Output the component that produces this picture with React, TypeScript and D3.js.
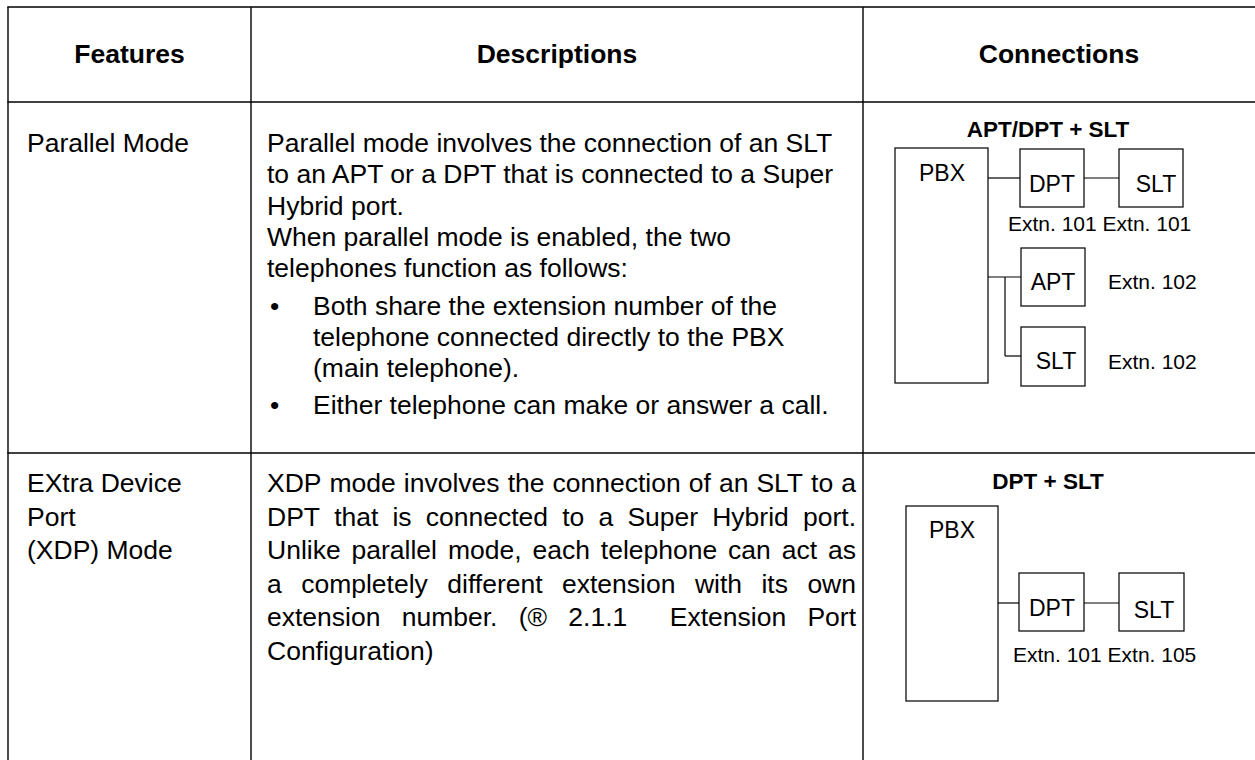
import React, { useEffect, useRef } from "react";
import * as d3 from "d3";

// table content
const headers = ["Features", "Descriptions", "Connections"];
const featureNames = [["Parallel Mode"], ["EXtra Device", "Port", "(XDP) Mode"]];
const parallelIntro = [
  "Parallel mode involves the connection of an SLT",
  "to an APT or a DPT that is connected to a Super",
  "Hybrid port.",
  "When parallel mode is enabled, the two",
  "telephones function as follows:",
];
const parallelBullets = [
  ["Both share the extension number of the", "telephone connected directly to the PBX", "(main telephone)."],
  ["Either telephone can make or answer a call."],
];
const xdpLines = [
  "XDP mode involves the connection of an SLT to a",
  "DPT that is connected to a Super Hybrid port.",
  "Unlike parallel mode, each telephone can act as",
  "a completely different extension with its own",
  "extension number. (\u00AE 2.1.1  Extension Port",
  "Configuration)",
];

// diagram content
const diagramTitles = ["APT/DPT + SLT", "DPT + SLT"];
const parallelNodes = ["PBX", "DPT", "SLT", "APT", "SLT"];
const parallelExtns = ["Extn. 101", "Extn. 101", "Extn. 102", "Extn. 102"];
const xdpNodes = ["PBX", "DPT", "SLT"];
const xdpExtns = ["Extn. 101", "Extn. 105"];

const FONT = "'Liberation Sans', Arial, Helvetica, sans-serif";
const COL = [8, 251, 863, 1255];
const ROW = [7, 102, 453, 760];
const BODY = 26.5;

function App() {
  const ref = useRef<SVGSVGElement>(null);

  useEffect(() => {
    document.body.style.margin = "0";
    const svg = d3.select(ref.current);
    svg.selectAll("*").remove();
    const g = svg.append("g").attr("font-family", FONT).attr("fill", "#000");

    const line = (x1: number, y1: number, x2: number, y2: number, w = 1.4) =>
      g.append("line").attr("x1", x1).attr("y1", y1).attr("x2", x2).attr("y2", y2)
        .attr("stroke", "#000").attr("stroke-width", w);

    const text = (s: string, x: number, y: number, size: number, anchor = "start", weight = "normal") =>
      g.append("text").attr("x", x).attr("y", y).attr("font-size", size)
        .attr("text-anchor", anchor).attr("font-weight", weight).text(s);

    const width = (sel: any) => (sel.node() as SVGTextElement).getComputedTextLength();

    // grid
    [ROW[0], ROW[1], ROW[2]].forEach((y) => line(COL[0] - 0.7, y, COL[3], y));
    [COL[0], COL[1], COL[2]].forEach((x) => line(x, ROW[0], x, ROW[3]));

    // headers
    headers.forEach((h, i) => text(h, (COL[i] + COL[i + 1]) / 2, 63, BODY, "middle", "bold"));

    // features column
    const firstBase = [152, 492];
    const featGap = [31.3, 33.5];
    featureNames.forEach((lines, r) =>
      lines.forEach((s, i) => text(s, 27, firstBase[r] + i * featGap[r], BODY)));

    // parallel description
    const tx = 267;
    const lh = 31.3;
    let y = firstBase[0];
    parallelIntro.forEach((s) => { text(s, tx, y, BODY); y += lh; });
    parallelBullets.forEach((para) => {
      y += 6;
      text("\u2022", 270, y, BODY);
      para.forEach((s) => { text(s, 313, y, BODY); y += lh; });
    });

    // XDP description, justified
    const x0 = 267, x1 = 856;
    xdpLines.forEach((s, i) => {
      const yy = firstBase[1] + i * featGap[1];
      if (i === xdpLines.length - 1) { text(s, x0, yy, BODY); return; }
      const words: string[] = [];
      const gaps: number[] = [];
      let pending = 0;
      s.split(" ").forEach((t) => {
        if (t === "") { pending += 1; return; }
        if (words.length) gaps.push(pending + 1);
        words.push(t);
        pending = 0;
      });
      const nodes = words.map((w) => text(w, x0, yy, BODY));
      const widths = nodes.map(width);
      const unit = (x1 - x0 - d3.sum(widths)) / d3.sum(gaps);
      let cx = x0;
      nodes.forEach((n, k) => {
        n.attr("x", cx);
        cx += widths[k] + (k < gaps.length ? gaps[k] * unit : 0);
      });
    });

    // diagrams
    const LBL = 23;
    const EXT = 21;
    const box = (x: number, yb: number, w: number, h: number) =>
      g.append("rect").attr("x", x).attr("y", yb).attr("width", w).attr("height", h)
        .attr("fill", "none").attr("stroke", "#111").attr("stroke-width", 1.3);

    // two extension labels written side by side with one space between
    const extnPair = (a: string, b: string, x: number, yb: number) => {
      const first = text(a, x, yb, EXT);
      text(b, x + width(first) + EXT * 0.278, yb, EXT);
    };

    // parallel mode diagram
    text(diagramTitles[0], 1048, 137, 22.5, "middle", "bold");
    box(895, 148, 93, 235);
    text(parallelNodes[0], 942, 181, LBL, "middle");
    box(1020, 149, 64, 58);
    text(parallelNodes[1], 1052, 192, LBL, "middle");
    box(1119, 149, 64, 58);
    text(parallelNodes[2], 1156, 192, LBL, "middle");
    line(988, 178, 1020, 178, 1.2);
    line(1084, 178, 1119, 178, 1.2);
    extnPair(parallelExtns[0], parallelExtns[1], 1008, 231);
    box(1021, 248, 64, 58);
    text(parallelNodes[3], 1053, 290, LBL, "middle");
    box(1021, 327, 64, 59);
    text(parallelNodes[4], 1056, 369, LBL, "middle");
    text(parallelExtns[2], 1108, 289, EXT);
    text(parallelExtns[3], 1108, 369, EXT);
    line(988, 277, 1021, 277, 1.2);
    line(1005, 277, 1005, 356, 1.2);
    line(1005, 356, 1021, 356, 1.2);

    // XDP diagram
    text(diagramTitles[1], 1048, 489, 22.5, "middle", "bold");
    box(906, 506, 92, 195);
    text(xdpNodes[0], 952, 538, LBL, "middle");
    box(1019, 573, 65, 58);
    text(xdpNodes[1], 1052, 616, LBL, "middle");
    box(1119, 573, 65, 58);
    text(xdpNodes[2], 1154, 618, LBL, "middle");
    line(998, 603, 1019, 603, 1.2);
    line(1084, 603, 1119, 603, 1.2);
    extnPair(xdpExtns[0], xdpExtns[1], 1013, 662);
  }, []);

  return (
    <svg ref={ref} width={1255} height={760} style={{ display: "block", background: "#fff" }} />
  );
}

export default App;
